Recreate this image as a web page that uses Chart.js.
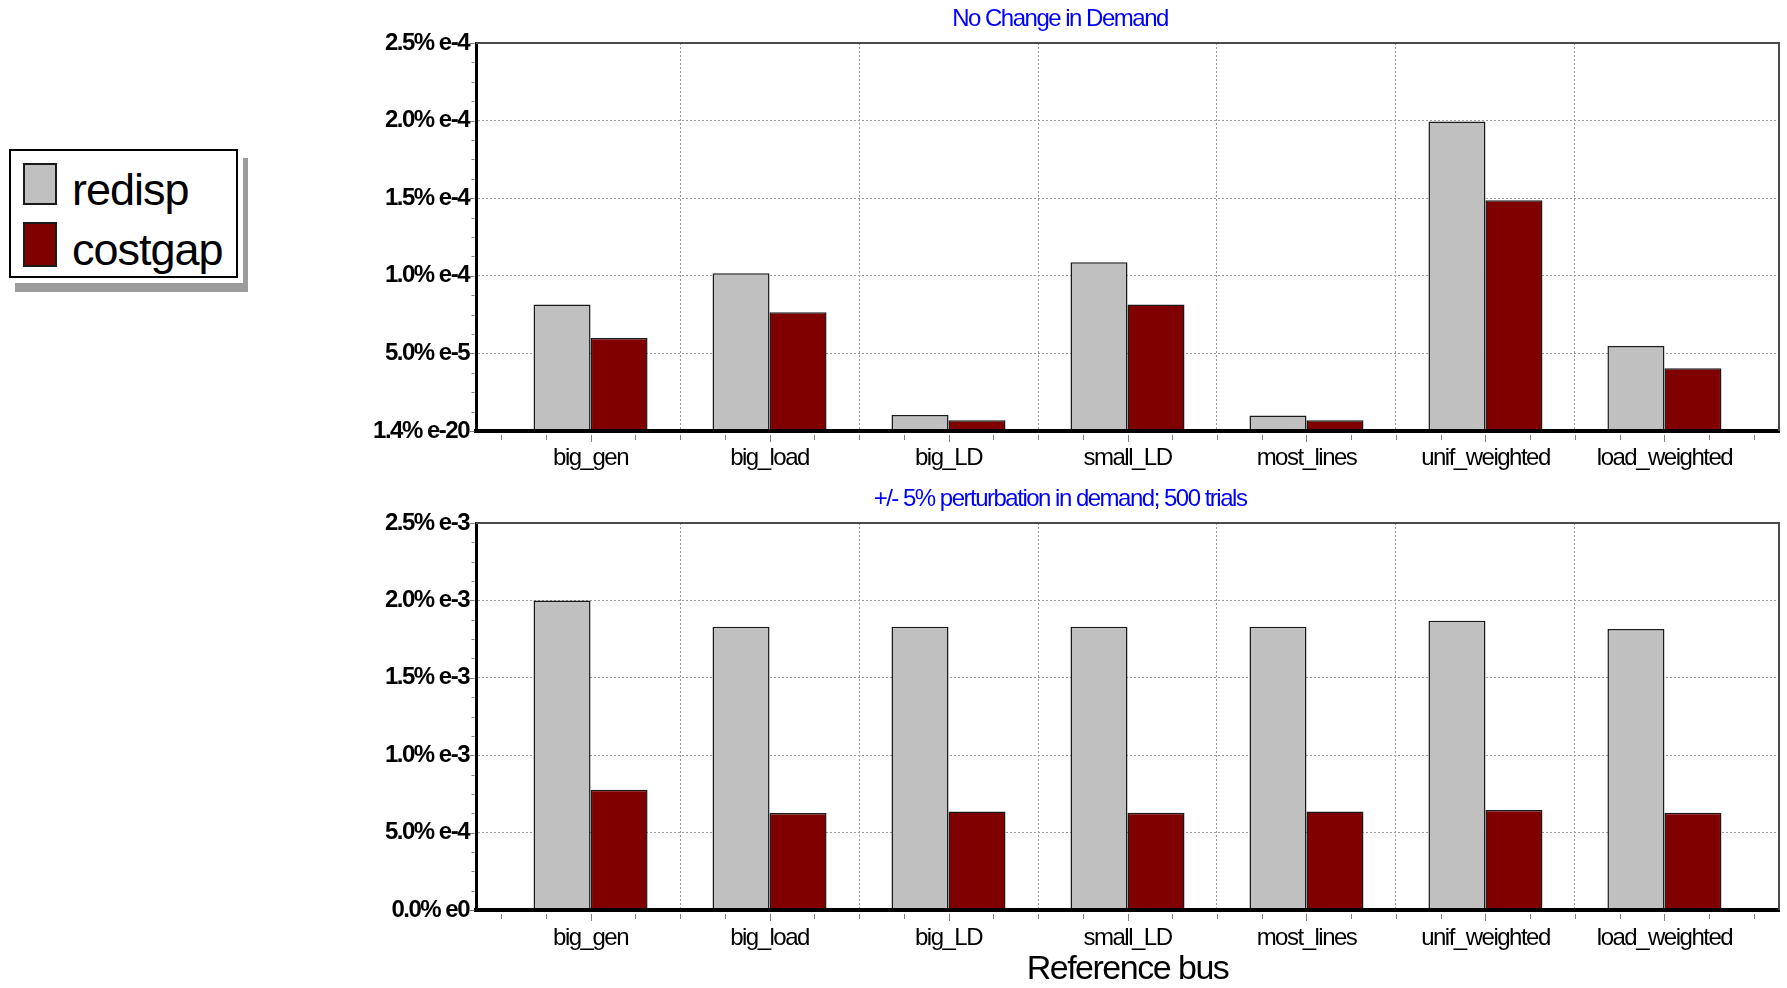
<!DOCTYPE html>
<html>
<head>
<meta charset="utf-8">
<script src="https://cdn.jsdelivr.net/npm/chart.js@4/dist/chart.umd.min.js"></script>
<style>
  html, body { margin: 0; padding: 0; background: #fff; }
  #page { position: relative; width: 1787px; height: 988px; overflow: hidden; background: #fff; }
  #topChart { position: absolute; left: 341px; top: 0; }
  #bottomChart { position: absolute; left: 341px; top: 480px; }
  #legendShadow { position: absolute; left: 15px; top: 158px; width: 233px; height: 134px; box-sizing: border-box;
                  border-right: 5px solid #9c9c9c; border-bottom: 9px solid #9c9c9c; }
  #legend { position: absolute; left: 9px; top: 149px; width: 229px; height: 129px; box-sizing: border-box;
            border: 2px solid #000; background: #fff; }
  .swatch { position: absolute; left: 12px; width: 34px; box-sizing: border-box; border: 2px solid #1a1a1a; }
  .ltext { position: absolute; left: 61px; font: 45px/45px "Liberation Sans", Arial, sans-serif; color: #000;
           white-space: nowrap; letter-spacing: -1px; }
</style>
</head>
<body>
<div id="page">
  <div id="legendShadow"></div>
  <div id="legend"></div>
  <canvas id="topChart" width="1446" height="480"></canvas>
  <canvas id="bottomChart" width="1446" height="508"></canvas>
</div>
<script>
// Reference-bus choices on the x axis
const categories = ['big_gen', 'big_load', 'big_LD', 'small_LD', 'most_lines', 'unif_weighted', 'load_weighted'];
const seriesNames = ['redisp', 'costgap'];
const seriesColors = ['#c0c0c0', '#800000'];

// No change in demand
const redispNoChange  = [8.15e-5, 1.017e-4, 1.03e-5, 1.088e-4, 1.0e-5, 1.995e-4, 5.48e-5];
const costgapNoChange = [6.0e-5, 7.65e-5, 6.9e-6, 8.15e-5, 6.9e-6, 1.487e-4, 4.05e-5];

// +/- 5% perturbation in demand, 500 trials
const redispPerturbed  = [2.0e-3, 1.829e-3, 1.829e-3, 1.829e-3, 1.829e-3, 1.868e-3, 1.816e-3];
const costgapPerturbed = [7.77e-4, 6.26e-4, 6.37e-4, 6.28e-4, 6.37e-4, 6.46e-4, 6.28e-4];

// y-axis ticks and their printed labels
const yTicksTop     = [0, 5e-5, 1e-4, 1.5e-4, 2e-4, 2.5e-4];
const yLabelsTop    = ['1.4% e-20', '5.0% e-5', '1.0% e-4', '1.5% e-4', '2.0% e-4', '2.5% e-4'];
const yTicksBottom  = [0, 5e-4, 1e-3, 1.5e-3, 2e-3, 2.5e-3];
const yLabelsBottom = ['0.0% e0', '5.0% e-4', '1.0% e-3', '1.5% e-3', '2.0% e-3', '2.5% e-3'];

const titleTop = 'No Change in Demand';
const titleBottom = '+/- 5% perturbation in demand; 500 trials';
const xAxisTitle = 'Reference bus';

const FONT = '"Liberation Sans", Arial, sans-serif';

// Tight lettering for every canvas text
const tightText = {
  id: 'tightText',
  beforeLayout(chart) { chart.ctx.letterSpacing = '-1.5px'; },
  beforeDraw(chart) { chart.ctx.letterSpacing = '-1.5px'; }
};

// Plot frame (top/right edges) plus major and minor tick marks on both axes
const frameAndTicks = {
  id: 'frameAndTicks',
  afterDraw(chart) {
    const { ctx, chartArea: a, scales: { x, y } } = chart;
    ctx.save();
    ctx.strokeStyle = '#4a4a4a';
    ctx.lineWidth = 2;
    ctx.beginPath();
    ctx.moveTo(a.left, a.top);
    ctx.lineTo(a.right, a.top);
    ctx.lineTo(a.right, a.bottom);
    ctx.stroke();

    ctx.strokeStyle = '#808080';
    ctx.lineWidth = 1;
    ctx.beginPath();
    for (let q = -2; q <= categories.length * 4 - 2; q++) {
      const v = q / 4;
      const px = Math.round(x.getPixelForValue(v)) + 0.5;
      const len = (q % 4 === 0) ? 7 : 5;
      ctx.moveTo(px, a.bottom + 4);
      ctx.lineTo(px, a.bottom + 4 + len);
    }
    const yMax = y.max;
    const minorStep = (y.ticks[1].value - y.ticks[0].value) / 4;
    for (let k = 0; k * minorStep <= yMax * 1.0000001; k++) {
      const py = Math.round(y.getPixelForValue(k * minorStep)) + 0.5;
      const len = (k % 4 === 0) ? 5 : 3;
      ctx.moveTo(a.left - 1.5, py);
      ctx.lineTo(a.left - 1.5 - len, py);
    }
    ctx.stroke();
    ctx.restore();
  }
};

function makeChart(canvasId, title, redisp, costgap, yTicks, yLabels, showXTitle, xAxisHeight, labelPad) {
  const values = [redisp, costgap];
  return new Chart(document.getElementById(canvasId), {
    type: 'bar',
    data: {
      datasets: seriesNames.map((name, s) => ({
        label: name,
        data: values[s].map((v, i) => ({ x: i, y: v })),
        backgroundColor: seriesColors[s],
        borderColor: '#1a1a1a',
        borderWidth: 1.5,
        categoryPercentage: 0.637,
        barPercentage: 1.0
      }))
    },
    options: {
      responsive: false,
      animation: false,
      events: [],
      layout: { padding: { left: 0, right: 8, top: 0, bottom: 0 } },
      plugins: {
        legend: { display: false },
        tooltip: { enabled: false },
        title: {
          display: true,
          text: title,
          color: '#0000ff',
          font: { family: FONT, size: 24, weight: 'normal' },
          padding: { top: 5, bottom: 9.2 }
        }
      },
      scales: {
        x: {
          type: 'linear',
          offset: false,
          min: -0.64,
          max: categories.length - 1 + 0.64,
          afterBuildTicks: (scale) => { scale.ticks = categories.map((c, i) => ({ value: i })); },
          afterFit: (scale) => { scale.height = xAxisHeight; },
          ticks: {
            autoSkip: false,
            maxRotation: 0,
            minRotation: 0,
            padding: labelPad,
            color: '#000',
            font: { family: FONT, size: 24 },
            callback: (value) => categories[value]
          },
          grid: {
            offset: true,
            drawTicks: false,
            lineWidth: 1,
            color: (c) => (c.type === 'tick' && c.index > 0) ? '#9a9a9a' : 'rgba(0,0,0,0)'
          },
          border: { display: true, color: '#000', width: 4, z: 1, dash: [2, 2] },
          title: {
            display: showXTitle,
            text: xAxisTitle,
            color: '#000',
            font: { family: FONT, size: 34, lineHeight: 1.0 },
            padding: { top: 0, bottom: 1 }
          }
        },
        y: {
          type: 'linear',
          min: yTicks[0],
          max: yTicks[yTicks.length - 1],
          afterBuildTicks: (scale) => { scale.ticks = yTicks.map(v => ({ value: v })); },
          afterFit: (scale) => { scale.width = 135; },
          ticks: {
            padding: 7,
            color: '#000',
            font: { family: FONT, size: 24, weight: 'bold' },
            callback: (value, index) => yLabels[index]
          },
          grid: {
            drawTicks: false,
            lineWidth: 1,
            color: (c) => (c.type === 'tick' && c.tick.value > yTicks[0] && c.tick.value < yTicks[yTicks.length - 1]) ? '#9a9a9a' : 'rgba(0,0,0,0)'
          },
          border: { display: true, color: '#000', width: 3, z: 1, dash: [2, 2] }
        }
      }
    },
    plugins: [tightText, frameAndTicks]
  });
}

const topChart = makeChart('topChart', titleTop, redispNoChange, costgapNoChange, yTicksTop, yLabelsTop, false, 49, 13);
makeChart('bottomChart', titleBottom, redispPerturbed, costgapPerturbed, yTicksBottom, yLabelsBottom, true, 78, 14);

// Legend built from the series of the top chart
const legend = document.getElementById('legend');
const swatchTops = [12, 71], swatchHeights = [42, 45], textTops = [16, 76];
topChart.data.datasets.forEach((ds, i) => {
  const sw = document.createElement('div');
  sw.className = 'swatch';
  sw.style.top = swatchTops[i] + 'px';
  sw.style.height = swatchHeights[i] + 'px';
  sw.style.background = ds.backgroundColor;
  legend.appendChild(sw);
  const t = document.createElement('div');
  t.className = 'ltext';
  t.style.top = textTops[i] + 'px';
  t.textContent = ds.label;
  legend.appendChild(t);
});
</script>
</body>
</html>
